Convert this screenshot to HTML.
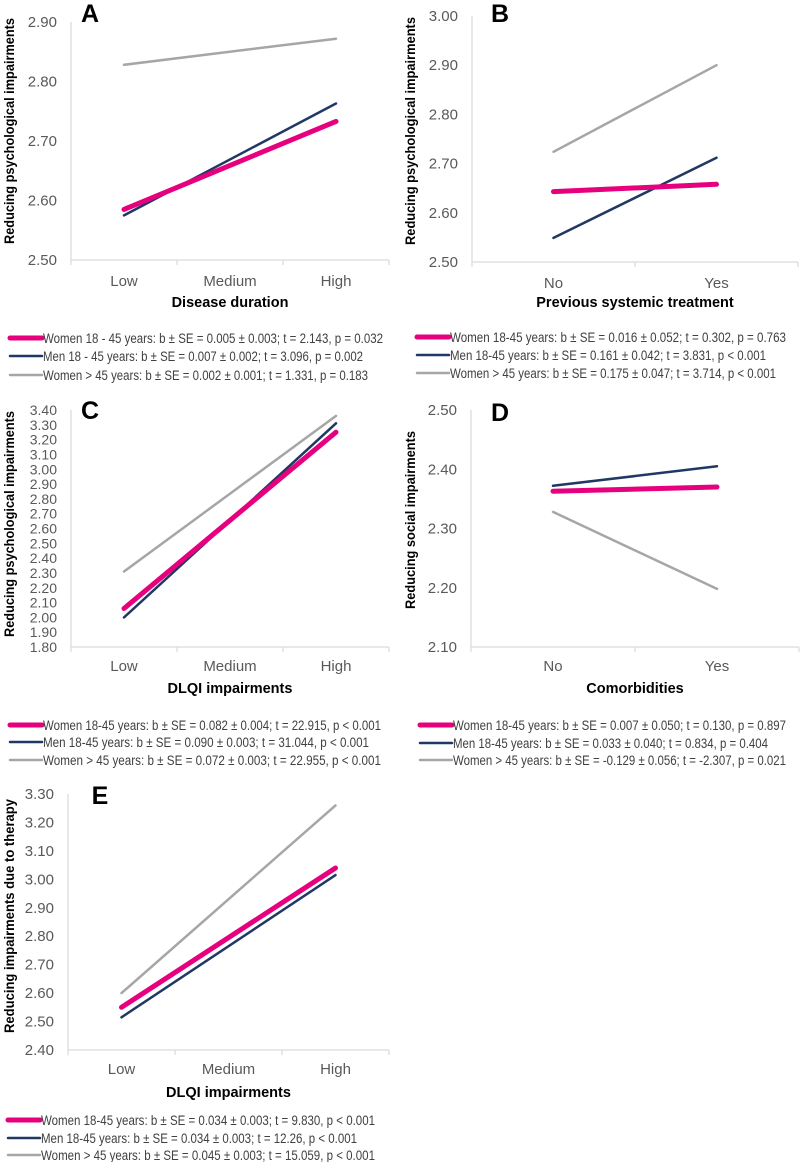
<!DOCTYPE html>
<html><head><meta charset="utf-8">
<style>
html,body{margin:0;padding:0;background:#fff;}
svg{display:block;font-family:"Liberation Sans",sans-serif;}
</style></head>
<body>
<svg id="fig" width="800" height="1162" viewBox="0 0 800 1162"></svg>
<script>
// ---- data ----
const seriesNames = ["Women 18-45", "Men 18-45", "Women >45"];
const catsA = ["Low","Medium","High"];
const womenA = [2.585, 2.733];
const menA = [2.575, 2.763];
const olderA = [2.828, 2.872];
const ticksA = [2.50,2.60,2.70,2.80,2.90];
const legendA = ["Women 18 - 45 years: b \u00b1 SE = 0.005 \u00b1 0.003; t = 2.143, p = 0.032",
  "Men 18 - 45 years: b \u00b1 SE = 0.007 \u00b1 0.002; t = 3.096, p = 0.002",
  "Women > 45 years: b \u00b1 SE = 0.002 \u00b1 0.001; t = 1.331, p = 0.183"];

const catsB = ["No","Yes"];
const womenB = [2.643, 2.658];
const menB = [2.549, 2.712];
const olderB = [2.724, 2.900];
const ticksB = [2.50,2.60,2.70,2.80,2.90,3.00];
const legendB = ["Women 18-45 years: b \u00b1 SE = 0.016 \u00b1 0.052; t = 0.302, p = 0.763",
  "Men 18-45 years: b \u00b1 SE = 0.161 \u00b1 0.042; t = 3.831, p < 0.001",
  "Women > 45 years: b \u00b1 SE = 0.175 \u00b1 0.047; t = 3.714, p < 0.001"];

const catsC = ["Low","Medium","High"];
const womenC = [2.06, 3.25];
const menC = [2.00, 3.31];
const olderC = [2.31, 3.36];
const ticksC = [1.80,1.90,2.00,2.10,2.20,2.30,2.40,2.50,2.60,2.70,2.80,2.90,3.00,3.10,3.20,3.30,3.40];
const legendC = ["Women 18-45 years: b \u00b1 SE = 0.082 \u00b1 0.004; t = 22.915, p < 0.001",
  "Men 18-45 years: b \u00b1 SE = 0.090 \u00b1 0.003; t = 31.044, p < 0.001",
  "Women > 45 years: b \u00b1 SE = 0.072 \u00b1 0.003; t = 22.955, p < 0.001"];

const catsD = ["No","Yes"];
const womenD = [2.363, 2.370];
const menD = [2.372, 2.405];
const olderD = [2.328, 2.198];
const ticksD = [2.10,2.20,2.30,2.40,2.50];
const legendD = ["Women 18-45 years: b \u00b1 SE = 0.007 \u00b1 0.050; t = 0.130, p = 0.897",
  "Men 18-45 years: b \u00b1 SE = 0.033 \u00b1 0.040; t = 0.834, p = 0.404",
  "Women > 45 years: b \u00b1 SE = -0.129 \u00b1 0.056; t = -2.307, p = 0.021"];

const catsE = ["Low","Medium","High"];
const womenE = [2.55, 3.04];
const menE = [2.515, 3.015];
const olderE = [2.60, 3.26];
const ticksE = [2.40,2.50,2.60,2.70,2.80,2.90,3.00,3.10,3.20,3.30];
const legendE = ["Women 18-45 years: b \u00b1 SE = 0.034 \u00b1 0.003; t = 9.830, p < 0.001",
  "Men 18-45 years: b \u00b1 SE = 0.034 \u00b1 0.003; t = 12.26, p < 0.001",
  "Women > 45 years: b \u00b1 SE = 0.045 \u00b1 0.003; t = 15.059, p < 0.001"];

// ---- drawing ----
const NS = "http://www.w3.org/2000/svg";
const svg = document.getElementById("fig");
const colors = ["#e6007e","#1f3864","#a6a6a6"];
const widths = [5, 2.5, 2.5];
function mk(tag, attrs, parent){
  const e = document.createElementNS(NS, tag);
  for (const k in attrs) e.setAttribute(k, attrs[k]);
  (parent||svg).appendChild(e); return e;
}
function panel(p){
  const g = mk("g", {});
  
  
  const yMin = p.ticks[0], yMax = p.ticks[p.ticks.length-1];
  const yS = v => p.yBot - (v - yMin) / (yMax - yMin) * (p.yBot - p.yTop);
  const n = p.cats.length;
  const band = (p.xR - p.xL) / n;
  const xS = i => p.xL + band * (i + 0.5);
  const ya = mk("line", {x1:p.xL, y1:p.yTop, x2:p.xL, y2:p.yBot, stroke:"#d9d9d9", "stroke-width":1.2}, g);
  
  
  const xa = mk("line", {x1:p.xL, y1:p.yBot, x2:p.xR, y2:p.yBot, stroke:"#d9d9d9", "stroke-width":1.2}, g);
  
  
  for (let i=0;i<=n;i++){
    const x = p.xL + band*i;
    mk("line", {x1:x, y1:p.yBot, x2:x, y2:p.yBot+5, stroke:"#d9d9d9", "stroke-width":1.2}, g);
  }
  const tfs = p.ticks.length > 12 ? 14 : 15;
  p.ticks.forEach(t=>{
    const tx = mk("text", {x:p.xL-14, y:yS(t)+5, "text-anchor":"end", "font-size":tfs, fill:"#595959"}, g);
    tx.textContent = t.toFixed(2);
    
    
  });
  p.cats.forEach((c,i)=>{
    const tx = mk("text", {x:xS(i), y:p.catY, "text-anchor":"middle", "font-size":15, fill:"#595959"}, g);
    tx.textContent = c;
    
    
  });
  const xt = mk("text", {x:(p.xL+p.xR)/2, y:p.titleY, "text-anchor":"middle", "font-size":14.5, "font-weight":"bold", fill:"#000"}, g);
  xt.textContent = p.xTitle;
  
  
  const yt = mk("text", {x:0, y:0, transform:`translate(${p.ytX},${p.ytCY}) rotate(-90)`, "text-anchor":"middle", "font-size":14, "font-weight":"bold", fill:"#000", textLength:p.ytLen, lengthAdjust:"spacingAndGlyphs"}, g);
  yt.textContent = p.yTitle;
  
  
  const lt = mk("text", {x:p.letter[0], y:p.letter[1], "font-size":25, "font-weight":"bold", fill:"#000", "text-anchor":"middle"}, g);
  lt.textContent = p.id;
  
  
  [2,1,0].forEach(s=>{
    const vals = p.series[s];
    const pts = vals.map((v,k)=>{
      const idx = n===3 ? (k===0?0:2) : k;
      return xS(idx).toFixed(1)+","+yS(v).toFixed(1);
    }).join(" ");
    const pl = mk("polyline", {points:pts, fill:"none", stroke:colors[s], "stroke-width":widths[s], "stroke-linecap":"round"}, g);
    
    
  });
  p.legend.forEach((txt,s)=>{
    const y = p.legY[s];
    const ll = mk("line", {x1:p.legX, y1:y, x2:p.legX+32, y2:y, stroke:colors[s], "stroke-width":widths[s], "stroke-linecap":"round"}, g);
    
    
    const lt2 = mk("text", {x:p.legX+33, y:y+5, "font-size":13.5, fill:"#404040", textLength:p.legLen[s], lengthAdjust:"spacingAndGlyphs"}, g);
    lt2.textContent = txt;
    
    
  });
}
panel({id:"A", cats:catsA, series:[womenA,menA,olderA], ticks:ticksA, legend:legendA,
  xL:71, xR:389, yTop:22, yBot:260, catY:286, titleY:307, xTitle:"Disease duration",
  yTitle:"Reducing psychological impairments", ytX:14, ytCY:131, ytLen:226,
  letter:[90,22], legX:10, legY:[338,356,375], legLen:[340,320,325]});
panel({id:"B", cats:catsB, series:[womenB,menB,olderB], ticks:ticksB, legend:legendB,
  xL:472, xR:798, yTop:16, yBot:262, catY:288, titleY:307, xTitle:"Previous systemic treatment",
  yTitle:"Reducing psychological impairments", ytX:415, ytCY:131, ytLen:228,
  letter:[500,22], legX:417, legY:[337,355,373], legLen:[336,316,326]});
panel({id:"C", cats:catsC, series:[womenC,menC,olderC], ticks:ticksC, legend:legendC,
  xL:71, xR:389, yTop:410, yBot:647, catY:671, titleY:693, xTitle:"DLQI impairments",
  yTitle:"Reducing psychological impairments", ytX:14, ytCY:524, ytLen:226,
  letter:[90,419], legX:10, legY:[725,742,760], legLen:[338,326,338]});
panel({id:"D", cats:catsD, series:[womenD,menD,olderD], ticks:ticksD, legend:legendD,
  xL:471, xR:799, yTop:410, yBot:647, catY:671, titleY:693, xTitle:"Comorbidities",
  yTitle:"Reducing social impairments", ytX:415, ytCY:520, ytLen:178,
  letter:[500,421], legX:420, legY:[725,743,760], legLen:[333,315,333]});
panel({id:"E", cats:catsE, series:[womenE,menE,olderE], ticks:ticksE, legend:legendE,
  xL:68, xR:389, yTop:794, yBot:1050, catY:1074, titleY:1097, xTitle:"DLQI impairments",
  yTitle:"Reducing impairments due to therapy", ytX:14, ytCY:916, ytLen:234,
  letter:[100,804], legX:8, legY:[1120,1138,1155], legLen:[334,316,334]});
</script>
</body></html>
